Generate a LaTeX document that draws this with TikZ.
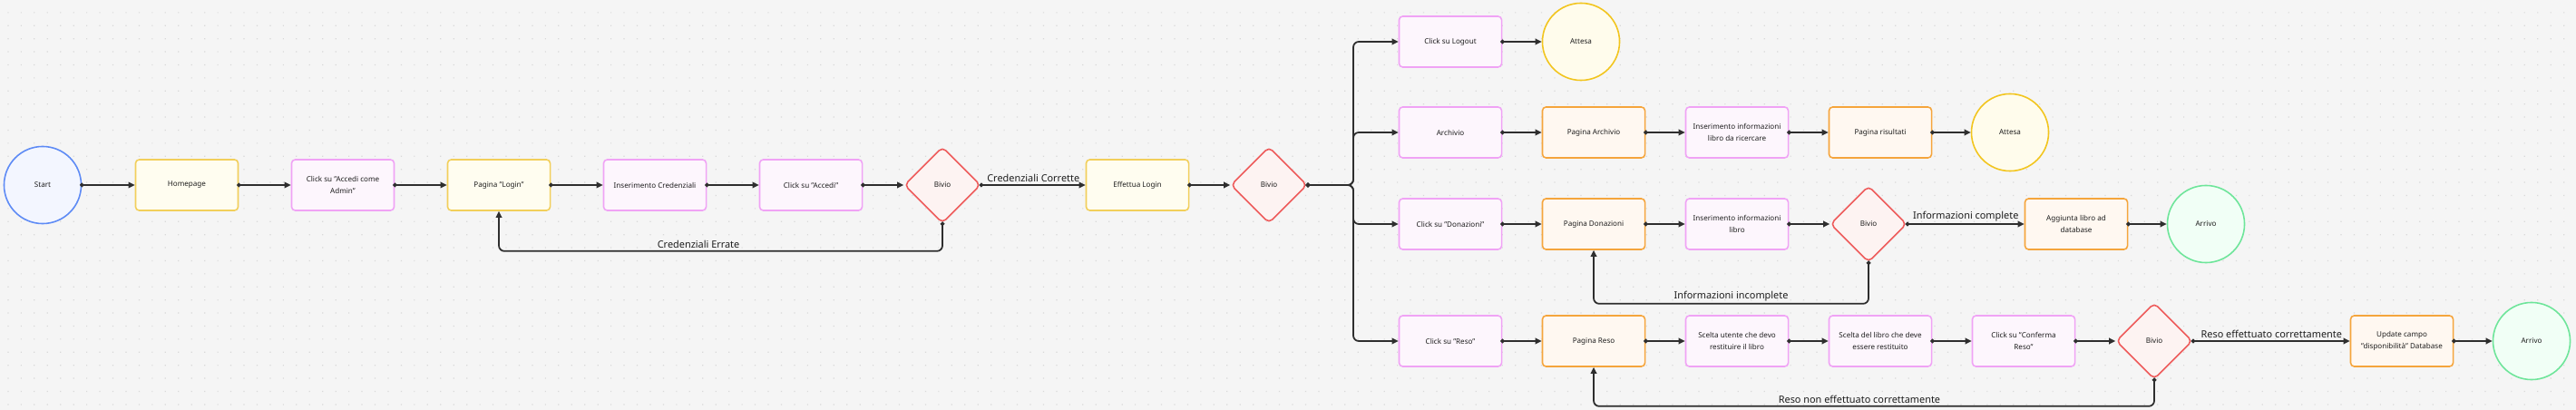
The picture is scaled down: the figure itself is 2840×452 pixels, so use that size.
\documentclass[tikz,border=0pt]{standalone}
\usepackage{fontspec}
\setmainfont{Noto Sans}
\usetikzlibrary{arrows.meta, shapes.geometric}

\definecolor{bgcol}{HTML}{F5F5F5}
\definecolor{griddot}{HTML}{D9D9D9}
\definecolor{linecol}{HTML}{2E2E2E}
\definecolor{textcol}{HTML}{1E1E1E}
\definecolor{blueline}{HTML}{5E8BF5}
\definecolor{bluefill}{HTML}{F3F6FF}
\definecolor{yelline}{HTML}{F2CF5B}
\definecolor{yelfill}{HTML}{FFFDF0}
\definecolor{pinkline}{HTML}{F0A3F5}
\definecolor{pinkfill}{HTML}{FDF6FD}
\definecolor{orline}{HTML}{F5A53C}
\definecolor{orfill}{HTML}{FFF8F1}
\definecolor{redline}{HTML}{EE5A5A}
\definecolor{redfill}{HTML}{FDF3F2}
\definecolor{waitline}{HTML}{F2C51E}
\definecolor{waitfill}{HTML}{FFFCEC}
\definecolor{endline}{HTML}{6EE59A}
\definecolor{endfill}{HTML}{F1FFF6}

\newcommand{\boxfont}{\fontsize{2.3pt}{3.7pt}\selectfont}
\newcommand{\lblfont}{\fontsize{3.1pt}{4pt}\selectfont}

\tikzset{
  box/.style={draw, rounded corners=0.04cm, line width=0.45pt, minimum width=1.13cm,
    minimum height=0.56cm, inner xsep=0.8pt, align=center, font=\boxfont, text=textcol},
  pinkbox/.style={box, draw=pinkline, fill=pinkfill},
  yelbox/.style={box, draw=yelline, fill=yelfill},
  orbox/.style={box, draw=orline, fill=orfill},
  bivio/.style={draw=redline, fill=redfill, diamond, aspect=1, line width=0.45pt,
    rounded corners=0.05cm, minimum width=0.84cm, minimum height=0.84cm, inner sep=0pt,
    font=\boxfont, text=textcol},
  round/.style={circle, line width=0.45pt, minimum size=0.85cm, inner sep=0pt,
    font=\boxfont, text=textcol},
  startnode/.style={round, draw=blueline, fill=bluefill},
  waitnode/.style={round, draw=waitline, fill=waitfill},
  endnode/.style={round, draw=endline, fill=endfill},
  flow/.style={draw=linecol, line width=0.5pt, rounded corners=0.06cm, shorten <=-0.022cm,
    {Circle[length=0.045cm]}-{Triangle[length=0.07cm,width=0.065cm]}},
  lbl/.style={font=\lblfont, text=textcol, inner sep=0.6pt, above}
}

\begin{document}
\begin{tikzpicture}[x=0.01cm, y=-0.01cm]
% Background and dot grid
\fill[bgcol] (0,0) rectangle (2840,452);
\useasboundingbox (0,0) rectangle (2840,452);
\fill[griddot] \foreach \i in {0,...,196} { \foreach \j in {0,...,30} {
  ({8.3+14.45*\i},{13.3+14.4*\j}) rectangle ++(1.2,1.2) } };

% Login row
\node[startnode] (start) at (47,204) {Start};
\node[yelbox] (home) at (206,204) {Homepage};
\node[pinkbox] (adminclick) at (378,204) {Click su "Accedi come\\Admin"};
\node[yelbox] (login) at (550,204) {Pagina "Login"};
\node[pinkbox] (cred) at (722,204) {Inserimento Credenziali};
\node[pinkbox] (accedi) at (894,204) {Click su "Accedi"};
\node[bivio] (bivio1) at (1039,204) {Bivio};
\node[yelbox] (effettua) at (1254,204) {Effettua Login};
\node[bivio] (bivio2) at (1399,204) {Bivio};

% Logout
\node[pinkbox] (logout) at (1599,46) {Click su Logout};
\node[waitnode] (attesa1) at (1743,46) {Attesa};

% Archivio
\node[pinkbox] (archivio) at (1599,146) {Archivio};
\node[orbox] (parchivio) at (1757,146) {Pagina Archivio};
\node[pinkbox] (ricerca) at (1915,146) {Inserimento informazioni\\libro da ricercare};
\node[orbox] (risultati) at (2073,146) {Pagina risultati};
\node[waitnode] (attesa2) at (2216,146) {Attesa};

% Donazioni
\node[pinkbox] (donclick) at (1599,247) {Click su "Donazioni"};
\node[orbox] (pdon) at (1757,247) {Pagina Donazioni};
\node[pinkbox] (infolibro) at (1915,247) {Inserimento informazioni\\libro};
\node[bivio] (bivio3) at (2060,247) {Bivio};
\node[orbox] (aggiunta) at (2289,247) {Aggiunta libro ad\\database};
\node[endnode] (arrivo1) at (2432,247) {Arrivo};

% Reso
\node[pinkbox] (resoclick) at (1599,376) {Click su "Reso"};
\node[orbox] (preso) at (1757,376) {Pagina Reso};
\node[pinkbox] (utente) at (1915,376) {Scelta utente che devo\\restituire il libro};
\node[pinkbox] (libro) at (2073,376) {Scelta del libro che deve\\essere restituito};
\node[pinkbox] (conferma) at (2231,376) {Click su "Conferma\\Reso"};
\node[bivio] (bivio4) at (2375,376) {Bivio};
\node[orbox] (update) at (2648,376) {Update campo\\"disponibilità" Database};
\node[endnode] (arrivo2) at (2791,376) {Arrivo};

% Connectors
\draw[flow] (start) -- (home);
\draw[flow] (home) -- (adminclick);
\draw[flow] (adminclick) -- (login);
\draw[flow] (login) -- (cred);
\draw[flow] (cred) -- (accedi);
\draw[flow] (accedi) -- (bivio1);
\draw[flow] (bivio1) -- node[lbl] {Credenziali Corrette} (effettua);
\draw[flow] (bivio1.south) -- ++(0,30) -| node[lbl, pos=0.275] {Credenziali Errate} (login.south);
\draw[flow] (effettua) -- (bivio2);

% Branches
\draw[flow] (bivio2.east) -- (1492,204) |- (logout.west);
\draw[flow] (bivio2.east) -- (1492,204) |- (archivio.west);
\draw[flow] (bivio2.east) -- (1492,204) |- (donclick.west);
\draw[flow] (bivio2.east) -- (1492,204) |- (resoclick.west);

\draw[flow] (logout) -- (attesa1);
\draw[flow] (archivio) -- (parchivio);
\draw[flow] (parchivio) -- (ricerca);
\draw[flow] (ricerca) -- (risultati);
\draw[flow] (risultati) -- (attesa2);

\draw[flow] (donclick) -- (pdon);
\draw[flow] (pdon) -- (infolibro);
\draw[flow] (infolibro) -- (bivio3);
\draw[flow] (bivio3) -- node[lbl] {Informazioni complete} (aggiunta);
\draw[flow] (bivio3.south) -- ++(0,45) -| node[lbl, pos=0.25] {Informazioni incomplete} (pdon.south);
\draw[flow] (aggiunta) -- (arrivo1);

\draw[flow] (resoclick) -- (preso);
\draw[flow] (preso) -- (utente);
\draw[flow] (utente) -- (libro);
\draw[flow] (libro) -- (conferma);
\draw[flow] (conferma) -- (bivio4);
\draw[flow] (bivio4) -- node[lbl] {Reso effettuato correttamente} (update);
\draw[flow] (bivio4.south) -- ++(0,29) -| node[lbl, pos=0.263] {Reso non effettuato correttamente} (preso.south);
\draw[flow] (update) -- (arrivo2);
\end{tikzpicture}
\end{document}
